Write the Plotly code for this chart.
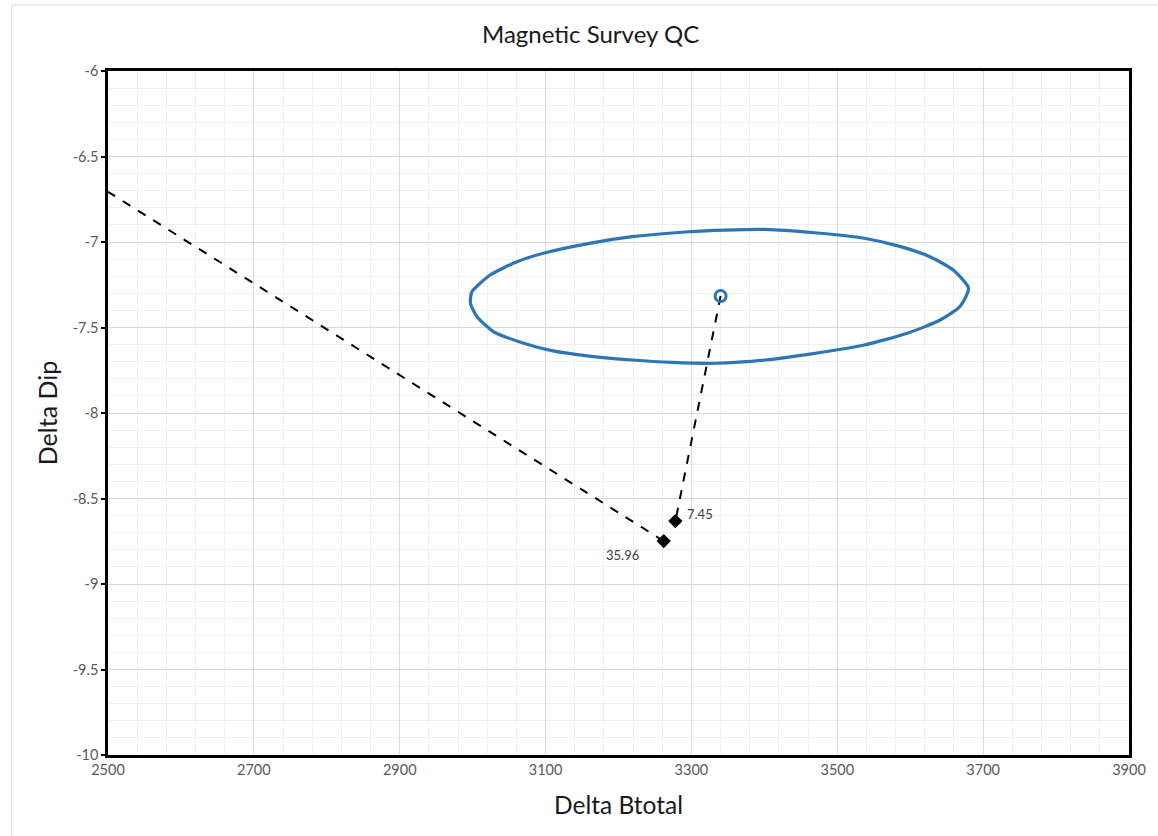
import plotly.graph_objects as go

# Tolerance ellipse outline (Delta Btotal, Delta Dip), traced clockwise
ellipse_btotal = [2997, 2999, 3024, 3061, 3097, 3160, 3219, 3296, 3346, 3401,
                  3469, 3537, 3587, 3627, 3659, 3680, 3668, 3641, 3596, 3537,
                  3469, 3401, 3333, 3274, 3219, 3160, 3110, 3070, 3029, 3006, 2997]
ellipse_dip = [-7.358, -7.291, -7.193, -7.115, -7.066, -7.008, -6.969, -6.940, -6.930, -6.926,
               -6.946, -6.978, -7.027, -7.086, -7.164, -7.271, -7.378, -7.456, -7.534, -7.602,
               -7.651, -7.690, -7.709, -7.704, -7.690, -7.667, -7.637, -7.592, -7.525, -7.437, -7.358]

# Ellipse centre
center_btotal = [3340]
center_dip = [-7.316]

# Survey stations and their labels
station_btotal = [3278, 3262]
station_dip = [-8.632, -8.749]
station_labels = ["7.45", "35.96"]

# Offset vectors (dashed)
vec1_btotal = [3340, 3278]
vec1_dip = [-7.316, -8.632]
vec2_btotal = [3262, 2500]
vec2_dip = [-8.749, -6.706]

# Axis ticks
x_ticks = [2500, 2700, 2900, 3100, 3300, 3500, 3700, 3900]
x_tick_text = ["2500", "2700", "2900", "3100", "3300", "3500", "3700", "3900"]
y_ticks = [-10, -9.5, -9, -8.5, -8, -7.5, -7, -6.5, -6]
y_tick_text = ["-10", "-9.5", "-9", "-8.5", "-8", "-7.5", "-7", "-6.5", "-6"]

FONT = "Lato"
BLUE = "#2E75B6"

fig = go.Figure()

fig.add_trace(go.Scatter(
    x=ellipse_btotal, y=ellipse_dip, mode="lines",
    line=dict(color=BLUE, width=3.2, shape="spline", smoothing=0.6),
    hoverinfo="skip", showlegend=False))

fig.add_trace(go.Scatter(
    x=vec1_btotal, y=vec1_dip, mode="lines",
    line=dict(color="black", width=2, dash="dash"),
    showlegend=False))
fig.add_trace(go.Scatter(
    x=vec2_btotal, y=vec2_dip, mode="lines",
    line=dict(color="black", width=2, dash="dash"),
    showlegend=False))

fig.add_trace(go.Scatter(
    x=center_btotal, y=center_dip, mode="markers",
    marker=dict(symbol="circle-open", size=11, color=BLUE, line=dict(width=3, color=BLUE)),
    showlegend=False))

fig.add_trace(go.Scatter(
    x=station_btotal, y=station_dip, mode="markers",
    marker=dict(symbol="diamond", size=11, color="black"),
    showlegend=False))

label_shift = [(25, 7), (-41, -14)]
for bx, dp, txt, (dx, dy) in zip(station_btotal, station_dip, station_labels, label_shift):
    fig.add_annotation(x=bx, y=dp, text=txt, showarrow=False,
                       xshift=dx, yshift=dy,
                       font=dict(family=FONT, size=13, color="#404040"))

fig.update_xaxes(
    range=[2500, 3900], tickvals=x_ticks, ticktext=x_tick_text,
    showline=True, linecolor="black", linewidth=2.5, mirror=True,
    ticks="", showgrid=True, gridcolor="#d9d9d9", gridwidth=1,
    minor=dict(dtick=40, tick0=2500, showgrid=True, gridcolor="#efefef", gridwidth=1),
    zeroline=False,
    tickfont=dict(family=FONT, size=14.5, color="#595959"),
    title=dict(text="Delta Btotal", font=dict(family=FONT, size=24.5, color="#1a1a1a"), standoff=20))

fig.update_yaxes(
    range=[-10, -6], tickvals=y_ticks, ticktext=y_tick_text,
    showline=True, linecolor="black", linewidth=2.5, mirror=True,
    ticks="outside", ticklen=4, tickwidth=1.5, tickcolor="black",
    showgrid=True, gridcolor="#d9d9d9", gridwidth=1,
    minor=dict(dtick=0.1, tick0=-10, showgrid=True, gridcolor="#efefef", gridwidth=1),
    zeroline=False,
    tickfont=dict(family=FONT, size=14.5, color="#595959"),
    title=dict(text="Delta Dip", font=dict(family=FONT, size=25, color="#1a1a1a"), standoff=8))

# Chart frame
fig.add_shape(type="rect", xref="paper", yref="paper",
              x0=-0.0943, x1=1.03, y0=-0.13, y1=1.0965,
              line=dict(color="#d9d9d9", width=1), layer="below")

fig.update_layout(
    width=1158, height=836,
    margin=dict(l=108, r=24, t=71, b=81),
    paper_bgcolor="white", plot_bgcolor="white",
    title=dict(text="Magnetic Survey QC", x=0.51, xanchor="center", y=0.959, yanchor="middle",
               font=dict(family=FONT, size=24, color="#1a1a1a")),
)

fig.write_html("out.html")
